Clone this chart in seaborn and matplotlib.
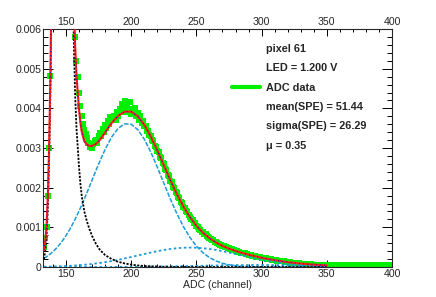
import numpy as np
import pandas as pd
import matplotlib
matplotlib.use("Agg")
import matplotlib.pyplot as plt
from matplotlib.lines import Line2D
from matplotlib.ticker import MultipleLocator, FuncFormatter
import seaborn as sns

# ADC spectrum, 1 channel bins starting at channel 133 (values in units of 1e-3)
first_channel = 133
adc_density = [
    0.50, 0.72, 1.00, 1.80, 3.00, 4.82,
    7.8, 11.5, 15.5, 20.5, 24.5, 28.0, 31.0, 32.5, 31.8, 30.0, 27.5, 25.0, 20.5, 17.0, 13.5, 10.8, 8.3,
    6.9, 5.8, 5.2, 4.8, 4.4, 4.05, 3.8, 3.6, 3.45, 3.35, 3.25, 3.12, 3.02, 3.08, 3.00,
    3.10, 3.18, 3.20, 3.12, 3.30, 3.38, 3.30, 3.47, 3.40, 3.58,
    3.50, 3.68, 3.60, 3.78, 3.70, 3.72, 3.80, 3.70, 3.90, 3.82,
    3.98, 3.90, 4.10, 4.00, 4.18, 3.92, 4.08, 3.98, 4.15, 3.85,
    3.92, 3.88, 4.00, 3.80, 3.88, 3.72, 3.80, 3.62, 3.68, 3.56,
    3.55, 3.44, 3.43, 3.32, 3.31, 3.20, 3.17, 3.06, 3.03, 2.92,
    2.89, 2.77, 2.74, 2.62, 2.59, 2.47, 2.44, 2.32, 2.29, 2.17,
    2.14, 2.03, 2.00, 1.89, 1.86, 1.76, 1.73, 1.64, 1.61, 1.51,
    1.49, 1.41, 1.38, 1.30, 1.27, 1.20, 1.19, 1.12, 1.10, 1.03,
    1.02, 0.96, 0.945, 0.89, 0.875, 0.83, 0.82, 0.775, 0.765, 0.72,
    0.715, 0.68, 0.67, 0.635, 0.628, 0.598, 0.592, 0.562, 0.558, 0.528,
    0.525, 0.50, 0.497, 0.472, 0.47, 0.447, 0.445, 0.425, 0.422, 0.402,
    0.40, 0.382, 0.38, 0.361, 0.36, 0.343, 0.341, 0.325, 0.323, 0.307,
    0.306, 0.291, 0.29, 0.276, 0.274, 0.26, 0.258, 0.246, 0.244, 0.231,
    0.229, 0.218, 0.216, 0.205, 0.203, 0.192, 0.19, 0.181, 0.179, 0.169,
    0.168, 0.159, 0.158, 0.15, 0.148, 0.14, 0.139, 0.131, 0.13, 0.122,
    0.121, 0.114, 0.113, 0.106, 0.105, 0.099, 0.098, 0.092, 0.091, 0.085,
    0.084, 0.079, 0.079, 0.074, 0.073, 0.069, 0.068, 0.064, 0.063, 0.059,
    0.059, 0.055, 0.054, 0.05, 0.05, 0.046, 0.047, 0.043, 0.045, 0.04,
    0.042, 0.035, 0.045, 0.038, 0.030, 0.044, 0.036, 0.040, 0.033, 0.046,
    0.037, 0.041, 0.031, 0.043, 0.039, 0.034, 0.045, 0.036, 0.040, 0.032,
    0.044, 0.038, 0.035, 0.042, 0.030, 0.041, 0.037, 0.043, 0.034, 0.039,
    0.036, 0.044, 0.031, 0.040, 0.038, 0.033, 0.045, 0.035, 0.041, 0.037,
    0.032, 0.043, 0.039, 0.034, 0.042, 0.036, 0.040, 0.033, 0.038,
]

# fit components (units of 1e-3)
fit_x = [133, 134, 135, 136, 137, 138, 139, 140, 141, 142, 144, 146, 148, 150,
         152, 153, 154, 155, 156, 157, 158, 159, 160, 161, 162, 163, 164,
         166, 168, 170, 173, 176, 180, 185, 190, 195,
         200, 205, 210, 215, 220, 225, 230, 235, 240, 245, 250, 255, 260, 265,
         270, 275, 280, 285, 290, 300, 310, 320, 330, 340, 350]
pedestal = [0.20, 0.40, 0.75, 1.5, 2.7, 4.5, 7.2, 11.0, 15.0, 19.5, 27.0, 31.5, 30.0, 24.5,
            16.0, 12.5, 9.8, 7.5, 5.6, 4.3, 3.5, 3.0, 2.5, 2.1, 1.8, 1.6, 1.4,
            1.15, 0.95, 0.78, 0.58, 0.43, 0.30, 0.20, 0.13, 0.09,
            0.06, 0.04, 0.025, 0.018, 0.01, 0.007, 0.004, 0.002, 0, 0, 0, 0, 0, 0,
            0, 0, 0, 0, 0, 0, 0, 0, 0, 0, 0]
spe = [0.218, 0.238, 0.259, 0.282, 0.307, 0.332, 0.360, 0.390, 0.421, 0.455, 0.527, 0.608, 0.698, 0.796,
       0.903, 0.960, 1.02, 1.08, 1.143, 1.208, 1.275, 1.345, 1.415, 1.488, 1.563, 1.638, 1.715,
       1.873, 2.033, 2.196, 2.439, 2.675, 2.969, 3.28, 3.50, 3.61,
       3.60, 3.464, 3.224, 2.899, 2.518, 2.114, 1.715, 1.345, 1.019, 0.746, 0.527, 0.360, 0.238, 0.152,
       0.0937, 0.0557, 0.032, 0.0179, 0.0096, 0.0024, 0.0006, 0, 0, 0, 0]
two_pe = [0.008, 0.0085, 0.009, 0.0095, 0.010, 0.011, 0.012, 0.013, 0.014, 0.015, 0.017, 0.0195, 0.022, 0.025,
          0.028, 0.030, 0.032, 0.034, 0.0365, 0.039, 0.0415, 0.044, 0.0456, 0.048, 0.051, 0.054, 0.057,
          0.063, 0.0698, 0.0771, 0.0892, 0.1024, 0.122, 0.150, 0.181, 0.215,
          0.252, 0.290, 0.328, 0.364, 0.399, 0.430, 0.455, 0.474, 0.486, 0.490, 0.486, 0.474, 0.455, 0.430,
          0.399, 0.364, 0.328, 0.290, 0.252, 0.181, 0.122, 0.0771, 0.0456, 0.025, 0.013]
three_pe = [0, 0, 0, 0, 0, 0, 0, 0, 0, 0, 0, 0, 0, 0,
            0, 0, 0, 0, 0, 0, 0, 0, 0, 0, 0, 0, 0,
            0, 0, 0, 0, 0, 0.0019, 0.0025, 0.0032, 0.0041,
            0.0052, 0.0065, 0.008, 0.0098, 0.0117, 0.014, 0.0165, 0.0192, 0.0221, 0.025, 0.0284, 0.0316, 0.0348, 0.0378,
            0.0408, 0.0434, 0.0457, 0.0476, 0.0489, 0.050, 0.0489, 0.0457, 0.0408, 0.0348, 0.0284]

legend_lines = ["pixel 61", "LED = 1.200 V", "ADC data",
                "mean(SPE) = 51.44", "sigma(SPE) = 26.29", "\u03bc = 0.35"]

data = pd.DataFrame({"channel": np.arange(first_channel, first_channel + len(adc_density)),
                     "density": np.array(adc_density) * 1e-3})
fit = pd.DataFrame({"channel": fit_x,
                    "ped": np.array(pedestal) * 1e-3,
                    "spe": np.array(spe) * 1e-3,
                    "pe2": np.array(two_pe) * 1e-3,
                    "pe3": np.array(three_pe) * 1e-3})
fit["total"] = fit["ped"] + fit["spe"] + fit["pe2"] + fit["pe3"]

sns.set_style("ticks")
plt.rcParams["font.family"] = ["Liberation Sans", "DejaVu Sans"]
plt.rcParams["axes.linewidth"] = 0.8

fig, ax = plt.subplots(figsize=(4.36, 2.97), dpi=100)
fig.subplots_adjust(left=0.0986, right=0.899, bottom=0.101, top=0.902)

green = "#00f000"
blue = "#1e9bd7"

sns.scatterplot(data=data, x="channel", y="density", marker="s", s=13, color=green,
                linewidth=0, ax=ax, zorder=2, legend=False)
sns.lineplot(data=fit, x="channel", y="spe", color=blue, linewidth=1.1,
             linestyle=(0, (3, 1)), ax=ax, zorder=3)
sns.lineplot(data=fit, x="channel", y="pe2", color=blue, linewidth=1.3,
             linestyle=(0, (1.4, 1.4)), ax=ax, zorder=3)
sns.lineplot(data=fit, x="channel", y="pe3", color=blue, linewidth=1.3,
             linestyle=(0, (1.4, 1.4)), ax=ax, zorder=3)
sns.lineplot(data=fit, x="channel", y="ped", color="black", linewidth=1.3,
             linestyle=(0, (1.2, 0.8)), ax=ax, zorder=3)
sns.lineplot(data=fit, x="channel", y="total", color="#ff1a1a", linewidth=1.5, ax=ax, zorder=4)
sns.lineplot(data=fit, x="channel", y="total", color="#1010c0", linewidth=0.8,
             linestyle=(0, (0.8, 3)), ax=ax, zorder=5)

ax.set_xlim(132.3, 400)
ax.set_ylim(0, 0.006)
ax.xaxis.set_major_locator(MultipleLocator(50))
ax.xaxis.set_minor_locator(MultipleLocator(10))
ax.yaxis.set_major_locator(MultipleLocator(0.001))
ax.yaxis.set_minor_locator(MultipleLocator(0.0002))
ax.yaxis.set_major_formatter(FuncFormatter(lambda v, p: "%g" % round(v, 4)))
ax.tick_params(axis="both", which="both", direction="in", top=True, right=True,
               labeltop=True, labelright=False, labelsize=7.6, color="black")
ax.tick_params(axis="x", which="major", length=5.0, width=0.7, pad=1.5)
ax.tick_params(axis="x", which="minor", length=2.5, width=0.7)
ax.tick_params(axis="y", which="major", length=7.5, width=0.7, pad=1.2)
ax.tick_params(axis="y", which="minor", length=3.7, width=0.7)
ax.set_xlabel("ADC (channel)", fontsize=7.6, labelpad=1)
ax.set_ylabel("")

handles = [Line2D([], [], color="none"), Line2D([], [], color="none"),
           Line2D([], [], color=green, linewidth=3),
           Line2D([], [], color="none"), Line2D([], [], color="none"), Line2D([], [], color="none")]
ax.legend(handles, legend_lines, loc="upper left", bbox_to_anchor=(0.5415, 0.937),
          frameon=False, prop={"weight": "bold", "size": 7.8}, handlelength=2.55,
          handletextpad=0.55, labelspacing=0.86, borderpad=0, borderaxespad=0)

fig.savefig("out.png", dpi=100)
